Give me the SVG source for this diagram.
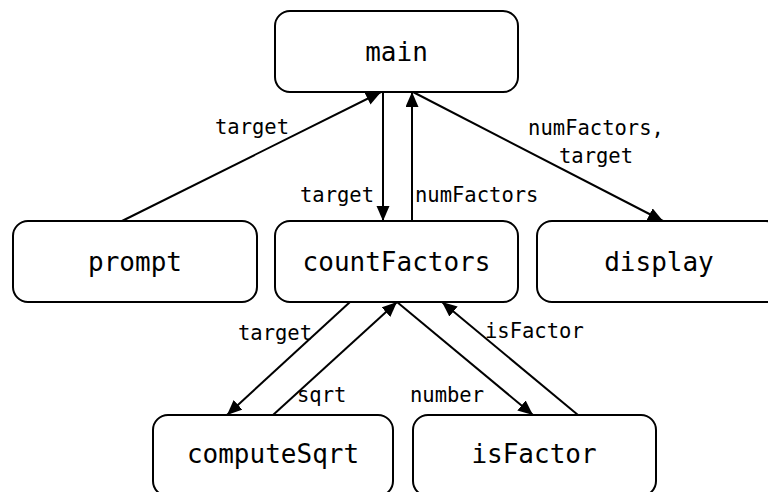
<svg xmlns="http://www.w3.org/2000/svg" width="768" height="492" viewBox="0 0 768 492">
<style>
.box{fill:#fff;stroke:#000;stroke-width:2}
.nt{font-family:"DejaVu Sans Mono","Liberation Mono",monospace;font-size:26px;text-anchor:middle;fill:#000}
.lb{font-family:"DejaVu Sans Mono","Liberation Mono",monospace;font-size:20.5px;fill:#000}
.c{stroke:#000;stroke-width:2;fill:none;marker-end:url(#ah)}
</style>
<defs>
<marker id="ah" markerUnits="userSpaceOnUse" markerWidth="16" markerHeight="14" refX="15" refY="6.5" orient="auto">
<path d="M0,0 L15,6.5 L0,13 z" fill="#000"/>
</marker>
</defs>
<rect width="768" height="492" fill="#fff"/>
<g id="connectors">
<line class="c" x1="122" y1="221" x2="381" y2="92"/>
<line class="c" x1="383" y1="92" x2="383" y2="221"/>
<line class="c" x1="412" y1="221" x2="412" y2="92"/>
<line class="c" x1="413" y1="92" x2="663" y2="221"/>
<line class="c" x1="350" y1="302" x2="227" y2="415"/>
<line class="c" x1="273" y1="415" x2="397" y2="302"/>
<line class="c" x1="397" y1="302" x2="533" y2="415"/>
<line class="c" x1="578" y1="415" x2="442" y2="302"/>
<text class="lb" x="215" y="134">target</text>
<text class="lb" x="300" y="202">target</text>
<text class="lb" x="415" y="202">numFactors</text>
<text class="lb" x="596" y="135" text-anchor="middle">numFactors,</text>
<text class="lb" x="596" y="163" text-anchor="middle">target</text>
<text class="lb" x="238" y="340">target</text>
<text class="lb" x="297" y="402">sqrt</text>
<text class="lb" x="410" y="402">number</text>
<text class="lb" x="485" y="338">isFactor</text>
</g>
<g id="main"><rect class="box" x="275" y="11" width="243" height="81" rx="15"/><text class="nt" x="396.5" y="61">main</text></g>
<g id="prompt"><rect class="box" x="13" y="221" width="244" height="81" rx="15"/><text class="nt" x="135" y="271">prompt</text></g>
<g id="countFactors"><rect class="box" x="275" y="221" width="243" height="81" rx="15"/><text class="nt" x="396.5" y="271">countFactors</text></g>
<g id="display"><rect class="box" x="537" y="221" width="244" height="81" rx="15"/><text class="nt" x="659" y="271">display</text></g>
<g id="computeSqrt"><rect class="box" x="153" y="415" width="240" height="81" rx="15"/><text class="nt" x="273" y="463">computeSqrt</text></g>
<g id="isFactor"><rect class="box" x="413" y="415" width="243" height="81" rx="15"/><text class="nt" x="534" y="463">isFactor</text></g>
</svg>
